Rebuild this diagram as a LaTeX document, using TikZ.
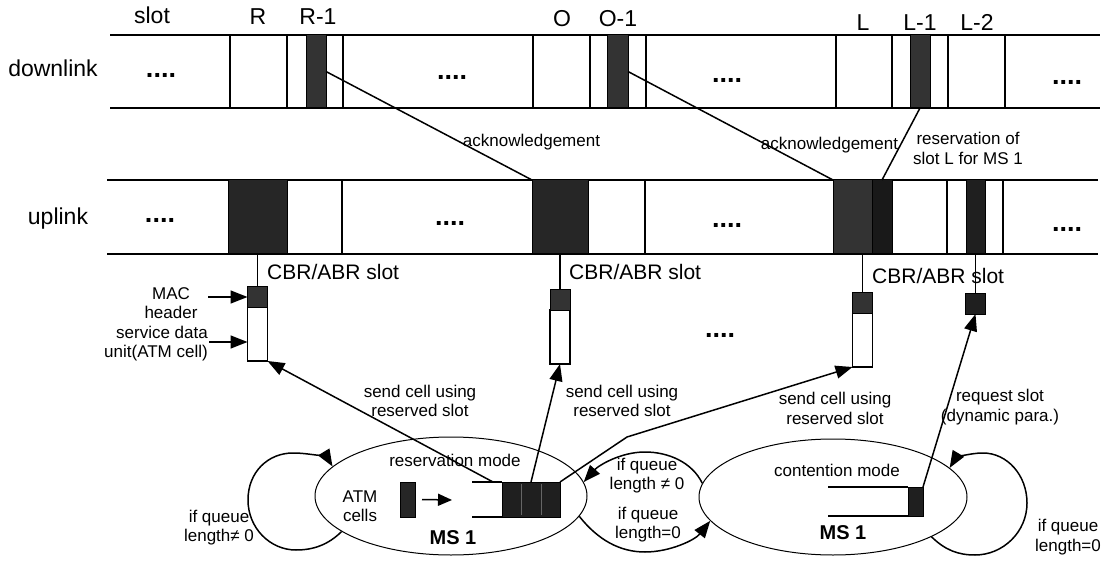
\documentclass[tikz,border=0pt]{standalone}
\usepackage{fontspec}
\setmainfont{Liberation Sans}
\usetikzlibrary{shapes.geometric,arrows.meta,calc}
\begin{document}
\begin{tikzpicture}[x=1pt,y=-1pt,
  big/.style={font=\fontsize{23}{26}\selectfont,inner sep=0pt,anchor=base},
  slab/.style={font=\fontsize{23}{26}\selectfont,inner sep=0pt,anchor=base},
  cbr/.style={font=\fontsize{21}{24}\selectfont,inner sep=0pt,anchor=west},
  small/.style={font=\fontsize{17}{19}\selectfont,inner sep=0pt,align=center},
  msl/.style={font=\bfseries\fontsize{20}{22}\selectfont,inner sep=0pt},
  dots/.style={font=\bfseries\fontsize{27}{27}\selectfont,inner sep=0pt},
  band/.style={line width=1.8pt},
  sepl/.style={line width=1.3pt},
  darkslot/.style 2 args={draw=black,line width=1pt,fill=black!80,inner sep=0pt,outer sep=0pt,minimum width=#1,minimum height=#2},
  cellbody/.style={draw=black,line width=1.3pt,fill=white,inner sep=0pt,outer sep=0pt,minimum width=20pt,minimum height=54pt},
  conn/.style={line width=1.5pt},
  arr/.style={line width=1.5pt,-{Triangle[length=17pt,width=13pt]}},
  state/.style 2 args={draw=black,line width=1pt,ellipse,inner sep=0pt,minimum width=#1,minimum height=#2},
]
\useasboundingbox (0,0) rectangle (1116,561);

% ---------- downlink band
\draw[band] (110,35) -- (1100,35);
\draw[band] (110,108) -- (1100,108);
\foreach \x in {230,287,343,533,590,646,836,892,948,1005}
  \draw[sepl] (\x,35) -- (\x,108);
\node[darkslot={20pt}{73pt}] (dR1) at (316,71.5) {};
\node[darkslot={21pt}{73pt}] (dO1) at (617.5,71.5) {};
\node[darkslot={20pt}{73pt}] (dL1) at (920,71.5) {};

% ---------- uplink band
\draw[band] (107,180) -- (1098,180);
\draw[band] (107,254) -- (1098,254);
\foreach \x in {342,645,947,1003}
  \draw[sepl] (\x,180) -- (\x,254);
\node[darkslot={59pt}{74pt},fill=black!85] (uR) at (257.5,217) {};
\node[darkslot={56pt}{74pt},fill=black!85] (uO) at (560,217) {};
\node[darkslot={59pt}{74pt},fill=black!80] (uL) at (862.5,217) {};
\node[darkslot={20pt}{74pt},fill=black!90] (uLb) at (882,217) {};
\node[darkslot={19pt}{74pt},fill=black!88] (uL2) at (975.5,217) {};

% ---------- top labels
\node[big] (tslot) at (152,24) {slot};
\node[slab] (tR) at (258,25) {R};
\node[slab] (tR1) at (318,25) {R-1};
\node[slab] (tO) at (562,27) {O};
\node[slab] (tO1) at (618,27) {O-1};
\node[slab] (tL) at (863,31) {L};
\node[slab] (tL1) at (920,31) {L-1};
\node[slab] (tL2) at (977,31) {L-2};
\node[big] (tdown) at (53,77) {downlink};
\node[big] (tup) at (58,225) {uplink};

% ---------- dots
\node[dots] (d1) at (161,75) {....};
\node[dots] (d2) at (452,77) {....};
\node[dots] (d3) at (727,80) {....};
\node[dots] (d4) at (1067,82) {....};
\node[dots] (u1) at (160,220) {....};
\node[dots] (u2) at (450,223) {....};
\node[dots] (u3) at (727,225) {....};
\node[dots] (u4) at (1067,229) {....};
\node[dots] (dmid) at (720,335) {....};

% ---------- acknowledgement connectors
\draw[conn] (dR1.east) -- (uO.north west);
\draw[conn] (dO1.east) -- (uL.north west);
\draw[conn] (dL1.south) -- (uLb.north);
\node[small] (ack1) at (531.5,142) {acknowledgement};
\node[small] (ack2) at (829.5,145) {acknowledgement};
\node[small,font=\fontsize{17}{20}\selectfont] (resv) at (968,148) {reservation of\\slot L for MS 1};

% ---------- cells
\node[cellbody] (c1) at (257.5,334) {};
\node[darkslot={20pt}{20pt}] (c1h) at (257.5,297) {};
\node[cellbody] (c2) at (560,337) {};
\node[darkslot={20pt}{20pt}] (c2h) at (560,300) {};
\node[cellbody] (c3) at (862.5,340) {};
\node[darkslot={20pt}{20pt}] (c3h) at (862.5,303) {};
\node[darkslot={20pt}{20pt},fill=black!88] (rc) at (975.5,304) {};
\draw[conn] (uR.south) -- (c1h.north);
\draw[conn] (uO.south) -- (c2h.north);
\draw[conn] (uL.south) -- (c3h.north);
\draw[conn] (uL2.south) -- (rc.north);
\node[cbr] (cbr1) at (267,272) {CBR/ABR slot};
\node[cbr] (cbr2) at (569,272) {CBR/ABR slot};
\node[cbr] (cbr3) at (872,276) {CBR/ABR slot};

% ---------- MAC labels
\node[small] (mac) at (171,303) {MAC\\header};
\node[small,align=right,anchor=east] (sdu) at (208,344) {service data\\unit(ATM cell)};
\coordinate (macA) at (208,297);
\draw[arr] (macA) -- (c1h.west);
\draw[arr] ($(sdu.east)+(1,-2)$) -- ($(sdu.east -| c1.west)+(0,-2)$);

% ---------- states
\node[state={272pt}{118pt}] (E1) at (451,496) {};
\node[state={268pt}{116pt}] (E2) at (833,497) {};

\node[small] (rmode) at (455,460) {reservation mode};
\node[small] (atmt) at (360,506) {ATM\\cells};
\node[darkslot={15pt}{35pt},fill=black!85] (atm) at (407.5,499.5) {};
\coordinate (atmto) at (452,500);
\draw[line width=1.5pt,-{Triangle[length=14pt,width=12pt]}] ($(atm.east)+(7,0)$) -- (atmto);
\node[darkslot={58pt}{35pt},fill=black!88] (q1) at (531,499.5) {};
\draw[line width=0.5pt,black!60] (521,484) -- (521,515);
\draw[line width=0.5pt,black!60] (541,484) -- (541,515);
\draw[conn] (q1.north west) -- ++(-30,0);
\draw[conn] (q1.south west) -- ++(-30,0);
\node[msl] (ms1) at (453,538) {MS 1};

\node[small] (cmode) at (837,470) {contention mode};
\node[darkslot={15pt}{29pt},fill=black!88] (q2) at (915.5,501.5) {};
\draw[conn] (q2.north west) -- ++(-80,0);
\draw[conn] (q2.south west) -- ++(-80,0);
\node[msl] (ms2) at (843,533) {MS 1};

% ---------- send / request arrows
\draw[arr] ($(q1.north west)+(-9,0)$) -- (c1.south east);
\draw[arr] (q1.north) -- (c2.south);
\coordinate (bend) at (627,437);
\draw[arr] (q1.north east) -- (bend) -- (c3.south west);
\draw[arr] (q2.north east) -- (rc.south);
\node[small] (s1) at (420,401) {send cell using\\reserved slot};
\node[small] (s2) at (622,401) {send cell using\\reserved slot};
\node[small,font=\fontsize{17}{20}\selectfont] (s3) at (835,408) {send cell using\\reserved slot};
\node[small,font=\fontsize{17}{20}\selectfont] (rq) at (1000,407) {request slot\\(dynamic para.)};

% ---------- loops
\draw[arr] (E1.198) .. controls (328,545) and (313,550) .. (296,550)
  .. controls (270,550) and (248,528) .. (248,500)
  .. controls (248,472) and (268,453) .. (293,453)
  .. controls (312,453) and (328,459) .. (E1.166);
\draw[arr] (E2.338) .. controls (945,550) and (958,555) .. (975,555)
  .. controls (1003,555) and (1027,532) .. (1027,503)
  .. controls (1027,475) and (1007,453) .. (983,453)
  .. controls (968,453) and (955,459) .. (E2.14);
\draw[arr] (E2.174) .. controls (692,462) and (668,452) .. (645,452)
  .. controls (620,452) and (598,466) .. (E1.6);
\draw[arr] (E1.351) .. controls (598,540) and (620,552) .. (645,552)
  .. controls (670,552) and (695,540) .. (E2.191);

\node[small] (lq1) at (219,527.5) {if queue\\length≠ 0};
\node[small] (lq2) at (647,476) {if queue\\length ≠ 0};
\node[small] (lq3) at (648,525) {if queue\\length=0};
\node[small,font=\fontsize{17}{20}\selectfont] (lq4) at (1068,537) {if queue\\length=0};
\end{tikzpicture}
\end{document}
